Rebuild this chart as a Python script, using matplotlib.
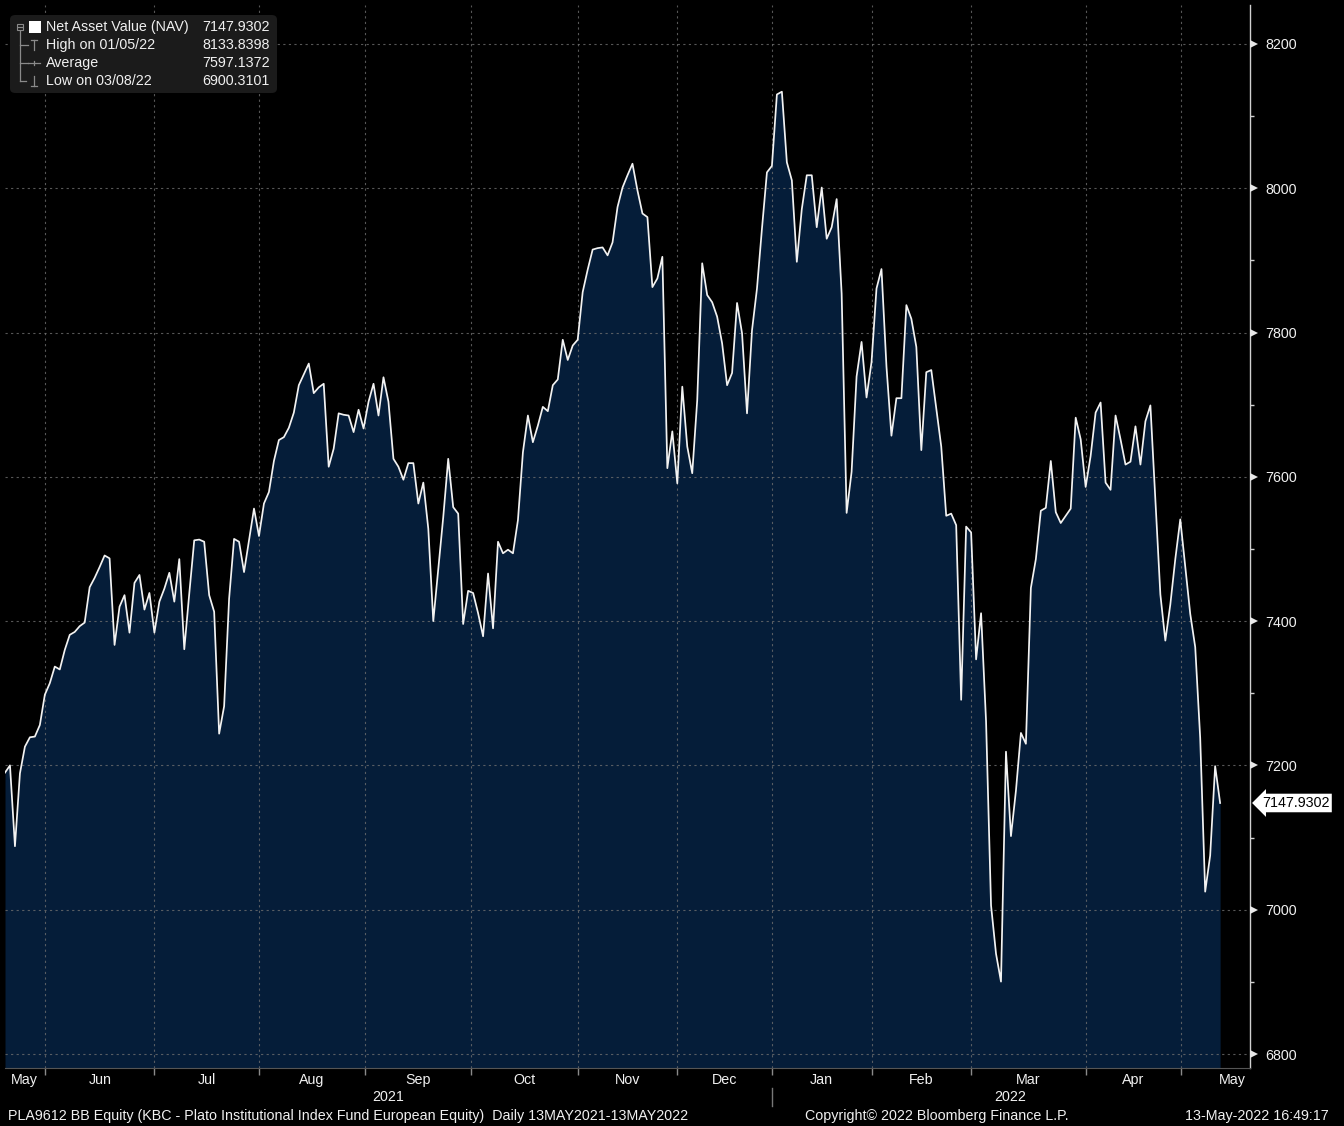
import matplotlib
matplotlib.use('Agg')
import matplotlib.pyplot as plt
import matplotlib.transforms as mtransforms
from matplotlib.patches import FancyBboxPatch, Rectangle
from matplotlib.lines import Line2D
import numpy as np

# ---------------- data ----------------
nav = [
    7190, 7200, 7088, 7189, 7226, 7239, 7240, 7256, 7298, 7314,
    7337, 7333, 7360, 7381, 7385, 7393, 7398, 7447, 7460, 7475,
    7491, 7487, 7367, 7420, 7436, 7384, 7453, 7464, 7416, 7439,
    7384, 7427, 7445, 7467, 7427, 7486, 7361, 7438, 7512, 7513,
    7510, 7436, 7413, 7244, 7282, 7431, 7514, 7510, 7468, 7512,
    7556, 7518, 7563, 7579, 7622, 7651, 7655, 7668, 7689, 7727,
    7742, 7757, 7716, 7724,
    7729, 7614, 7639, 7688, 7686, 7685, 7662, 7693, 7667, 7704,
    7729, 7685, 7738, 7704, 7625, 7614, 7596, 7619, 7619, 7563,
    7592, 7528, 7400, 7472, 7544, 7625, 7558, 7549, 7396, 7442,
    7439, 7411, 7379, 7466, 7390, 7510, 7494, 7499, 7494, 7540,
    7634, 7685, 7648, 7671, 7697, 7691, 7727, 7735, 7790, 7762,
    7782, 7790, 7856, 7887, 7915, 7917, 7918, 7907, 7925, 7974,
    8001, 8018, 8034, 7997, 7965, 7960, 7863, 7875, 7905, 7612,
    7663, 7591, 7725, 7642, 7605, 7706, 7896, 7852, 7842, 7822,
    7785, 7727, 7744, 7841, 7799, 7688, 7803, 7861, 7944, 8022,
    8031, 8130, 8133.8398, 8036, 8011, 7898, 7971, 8018, 8018, 7946,
    8001, 7930, 7946, 7985, 7854, 7550, 7607, 7739, 7787, 7710,
    7759, 7861, 7888, 7753, 7657, 7709, 7709, 7838, 7819, 7780,
    7637, 7745, 7748, 7695, 7642, 7546, 7549, 7533, 7291, 7531,
    7523, 7347, 7411, 7261, 7006, 6939, 6900.3101, 7219, 7102, 7165,
    7245, 7230, 7446, 7486, 7553, 7557, 7622, 7551, 7536, 7546,
    7556, 7682, 7652, 7586, 7629, 7689, 7703, 7592, 7582, 7685,
    7652, 7617, 7621, 7670, 7617, 7677, 7699, 7569, 7437, 7373,
    7423, 7486, 7541, 7476, 7410, 7364, 7238, 7025, 7075, 7199,
    7147.9302,
]

month_bounds = [8.1, 30.0, 51.1, 72.2, 93.6, 115.0, 135.0, 154.0, 174.0, 193.9, 217.1, 236.1]
month_labels = ['May', 'Jun', 'Jul', 'Aug', 'Sep', 'Oct', 'Nov', 'Dec', 'Jan', 'Feb', 'Mar', 'Apr', 'May']
year_labels = ['2021', '2022']
year_pos = [76.9, 201.8]
year_split = 154.0

y_ticks = [6800, 7000, 7200, 7400, 7600, 7800, 8000, 8200]

legend_rows = [
    ('Net Asset Value (NAV)', '7147.9302'),
    ('High on 01/05/22', '8133.8398'),
    ('Average', '7597.1372'),
    ('Low on 03/08/22', '6900.3101'),
]
last_label = '7147.9302'

footer_left = 'PLA9612 BB Equity (KBC - Plato Institutional Index Fund European Equity)  Daily 13MAY2021-13MAY2022'
footer_mid = 'Copyright\u00a9 2022 Bloomberg Finance L.P.'
footer_right = '13-May-2022 16:49:17'

# ---------------- style ----------------
W, H = 1344, 1126
FONT = ['Liberation Sans', 'DejaVu Sans']
plt.rcParams['font.family'] = FONT
BG = '#000000'
FILL = '#051d39'
GRID = '#6e6e6e'
TXT = '#f0f0f0'
FS = 10.3

fig = plt.figure(figsize=(W / 100, H / 100), dpi=100, facecolor=BG)

def fx(px):
    return px / W

def fy(py):
    return 1 - py / H

ax_l, ax_r, ax_t, ax_b = 5, 1250, 5, 1068
ax = fig.add_axes([fx(ax_l), fy(ax_b), fx(ax_r - ax_l), (ax_b - ax_t) / H])
ax.set_facecolor(BG)

x = np.arange(len(nav))
ax.fill_between(x, nav, 6700, color=FILL, lw=0, zorder=1)
ax.plot(x, nav, color='#f2f2f2', lw=1.25, zorder=4)

ax.set_xlim(0, 250)
ax.set_ylim(6780.6, 8254)

# grid
for yv in y_ticks:
    ax.axhline(yv, color=GRID, lw=0.8, ls=(0, (2, 3)), alpha=0.8, zorder=2)
for xb in month_bounds:
    ax.axvline(xb, color=GRID, lw=0.8, ls=(0, (2, 3)), alpha=0.8, zorder=2)

# right axis
ax.yaxis.tick_right()
ax.set_yticks(y_ticks)
ax.set_yticklabels([str(v) for v in y_ticks])
ax.set_yticks(np.arange(6900, 8201, 200), minor=True)
ax.tick_params(axis='y', which='major', direction='out', length=0, width=0,
               labelcolor=TXT, labelsize=FS, pad=11)
ax.tick_params(axis='y', which='minor', direction='out', length=3, width=1, color='#d0d0d0')
blend_y = mtransforms.blended_transform_factory(ax.transAxes, ax.transData)
ax.plot([1.0035] * len(y_ticks), y_ticks, ls='none', marker='>', ms=5.5, mew=0,
        color='#e8e8e8', transform=blend_y, clip_on=False, zorder=5)

# x axis ticks at month boundaries
ax.set_xticks(month_bounds)
ax.set_xticklabels([])
ax.tick_params(axis='x', which='major', direction='out', length=5, width=1, color='#8a8a8a')

for s in ['top', 'left']:
    ax.spines[s].set_visible(False)
ax.spines['right'].set_color('#d0d0d0')
ax.spines['right'].set_linewidth(1.0)
ax.spines['bottom'].set_color('#555555')
ax.spines['bottom'].set_linewidth(0.8)

# month labels
blend_x = mtransforms.blended_transform_factory(ax.transData, ax.transAxes)
label_pos = [3.8] + [(month_bounds[i] + month_bounds[i + 1]) / 2 for i in range(len(month_bounds) - 1)] + [246.4]
for lab, p in zip(month_labels, label_pos):
    ax.text(p, -12 / (ax_b - ax_t), lab, transform=blend_x, ha='center', va='center',
            color=TXT, fontsize=FS, clip_on=False)
for lab, p in zip(year_labels, year_pos):
    ax.text(p, -29 / (ax_b - ax_t), lab, transform=blend_x, ha='center', va='center',
            color=TXT, fontsize=FS, clip_on=False)
ax.add_line(Line2D([year_split, year_split], [-20 / (ax_b - ax_t), -38 / (ax_b - ax_t)],
                   transform=blend_x, color='#777777', lw=1, clip_on=False))

# last value label
ax.text(1.0 + 12 / (ax_r - ax_l), nav[-1], last_label, transform=blend_y, ha='left', va='center',
        color='#000000', fontsize=FS, clip_on=False, zorder=6,
        bbox=dict(boxstyle='larrow,pad=0.16', fc='#ffffff', ec='none'))

# legend box
box = FancyBboxPatch((fx(10), fy(93)), fx(267), (93 - 15) / H,
                     boxstyle='round,pad=0,rounding_size=0.004',
                     transform=fig.transFigure, fc='#1b1b1b', ec='none', zorder=10)
fig.patches.append(box)
row_y = [27, 45, 63, 81]
for (lab, val), yy in zip(legend_rows, row_y):
    fig.text(fx(46), fy(yy), lab, color=TXT, fontsize=FS, ha='left', va='center', zorder=11)
    fig.text(fx(270), fy(yy), val, color=TXT, fontsize=FS, ha='right', va='center', zorder=11)

def fline(xs, ys, c='#8a8a8a', lw=0.9):
    fig.add_artist(Line2D([fx(v) for v in xs], [fy(v) for v in ys], color=c, lw=lw,
                          transform=fig.transFigure, zorder=11))

# tree icons
fig.add_artist(Rectangle((fx(17), fy(30)), fx(6), 6 / H, transform=fig.transFigure,
                         fc='none', ec='#8a8a8a', lw=0.8, zorder=11))
fline([18, 22], [27, 27])
fig.add_artist(Rectangle((fx(29), fy(33)), fx(12), 12 / H, transform=fig.transFigure,
                         fc='#ffffff', ec='none', zorder=11))
fline([20, 20], [31, 81])
for yy in [45, 63]:
    fline([20, 28], [yy, yy])
fline([20, 26], [81, 81])
fline([31, 37], [40, 40]); fline([34, 34], [40, 50])
fline([28, 40], [63, 63]); fline([34, 34], [61, 65])
fline([31, 37], [86, 86]); fline([34, 34], [76, 86])

# footer
fig.text(fx(8), fy(1116), footer_left, color=TXT, fontsize=FS, ha='left', va='center')
fig.text(fx(937), fy(1116), footer_mid, color=TXT, fontsize=FS, ha='center', va='center')
fig.text(fx(1329), fy(1116), footer_right, color=TXT, fontsize=FS, ha='right', va='center')

fig.savefig('out.png', dpi=100, facecolor=BG)
